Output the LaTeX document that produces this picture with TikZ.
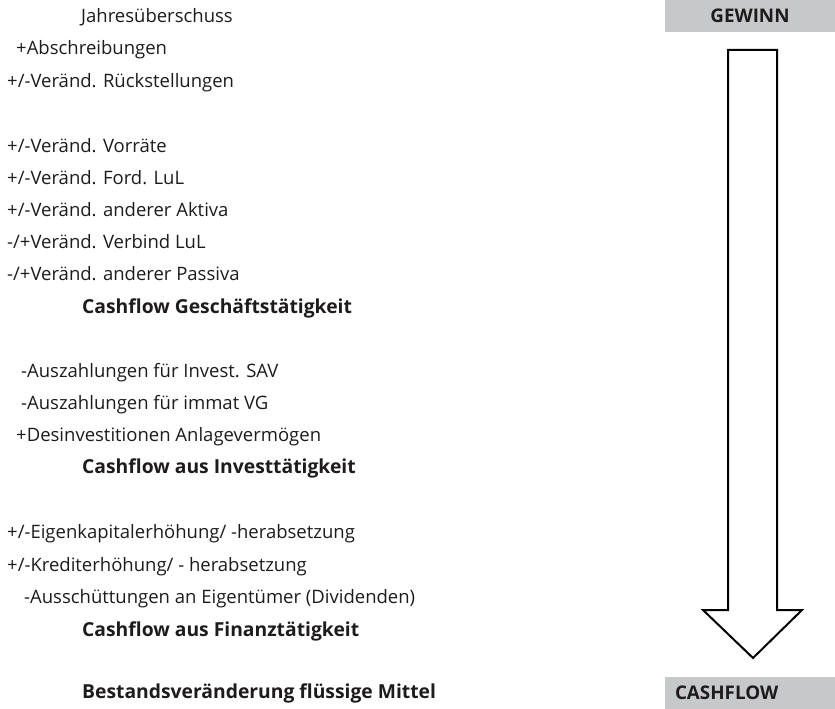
\documentclass[tikz,border=0pt]{standalone}
\usepackage{fontspec}
\setmainfont{Open Sans}
\definecolor{txt}{RGB}{30,27,28}
\definecolor{boxgray}{RGB}{199,200,202}
\begin{document}
\begin{tikzpicture}[x=1pt,y=-1pt,
  row/.style={anchor=base west,inner sep=0pt,text=txt,font=\fontsize{18.5}{22}\selectfont},
  sum/.style={row,font=\fontsize{19.3}{22}\selectfont\bfseries},
  tag/.style={fill=boxgray,minimum width=170pt,minimum height=32pt,inner sep=0pt,text=txt,font=\fontsize{18.8}{22}\selectfont\bfseries},
  flow/.style={draw=black,line width=2pt,line join=miter,fill=white}]
\useasboundingbox (0,0) rectangle (835,709);
\node[row] (l1) at (81,23) {Jahresüberschuss};
\node[row] (l2) at (16,55) {+Abschreibungen};
\node[row] (l3) at (7,87) {+/-Veränd. Rückstellungen};
\node[row] (l4) at (7,152) {+/-Veränd. Vorräte};
\node[row] (l5) at (7,184) {+/-Veränd. Ford. LuL};
\node[row] (l6) at (7,216) {+/-Veränd. anderer Aktiva};
\node[row] (l7) at (7,248) {-/+Veränd. Verbind LuL};
\node[row] (l8) at (7,280) {-/+Veränd. anderer Passiva};
\node[sum] (s1) at (82,313) {Cashflow Geschäftstätigkeit};
\node[row] (l9) at (21,377) {-Auszahlungen für Invest. SAV};
\node[row] (l10) at (21,409) {-Auszahlungen für immat VG};
\node[row] (l11) at (16,441) {+Desinvestitionen Anlagevermögen};
\node[sum] (s2) at (82,473) {Cashflow aus Investtätigkeit};
\node[row] (l12) at (7,538) {+/-Eigenkapitalerhöhung/ -herabsetzung};
\node[row] (l13) at (7,571) {+/-Krediterhöhung/ - herabsetzung};
\node[row] (l14) at (24,603) {-Ausschüttungen an Eigentümer (Dividenden)};
\node[sum] (s3) at (82,636) {Cashflow aus Finanztätigkeit};
\node[sum] (s4) at (82,698) {Bestandsveränderung flüssige Mittel};
\node[tag] (gewinn) at (750,16) {GEWINN};
\node[tag,text width=150pt,align=left] (cash) at (750,693) {CASHFLOW};
\draw[flow] (728,50) -- (777,50) -- (777,610) -- (802,610) -- (753,658) -- (703,610) -- (728,610) -- cycle;
\end{tikzpicture}
\end{document}
